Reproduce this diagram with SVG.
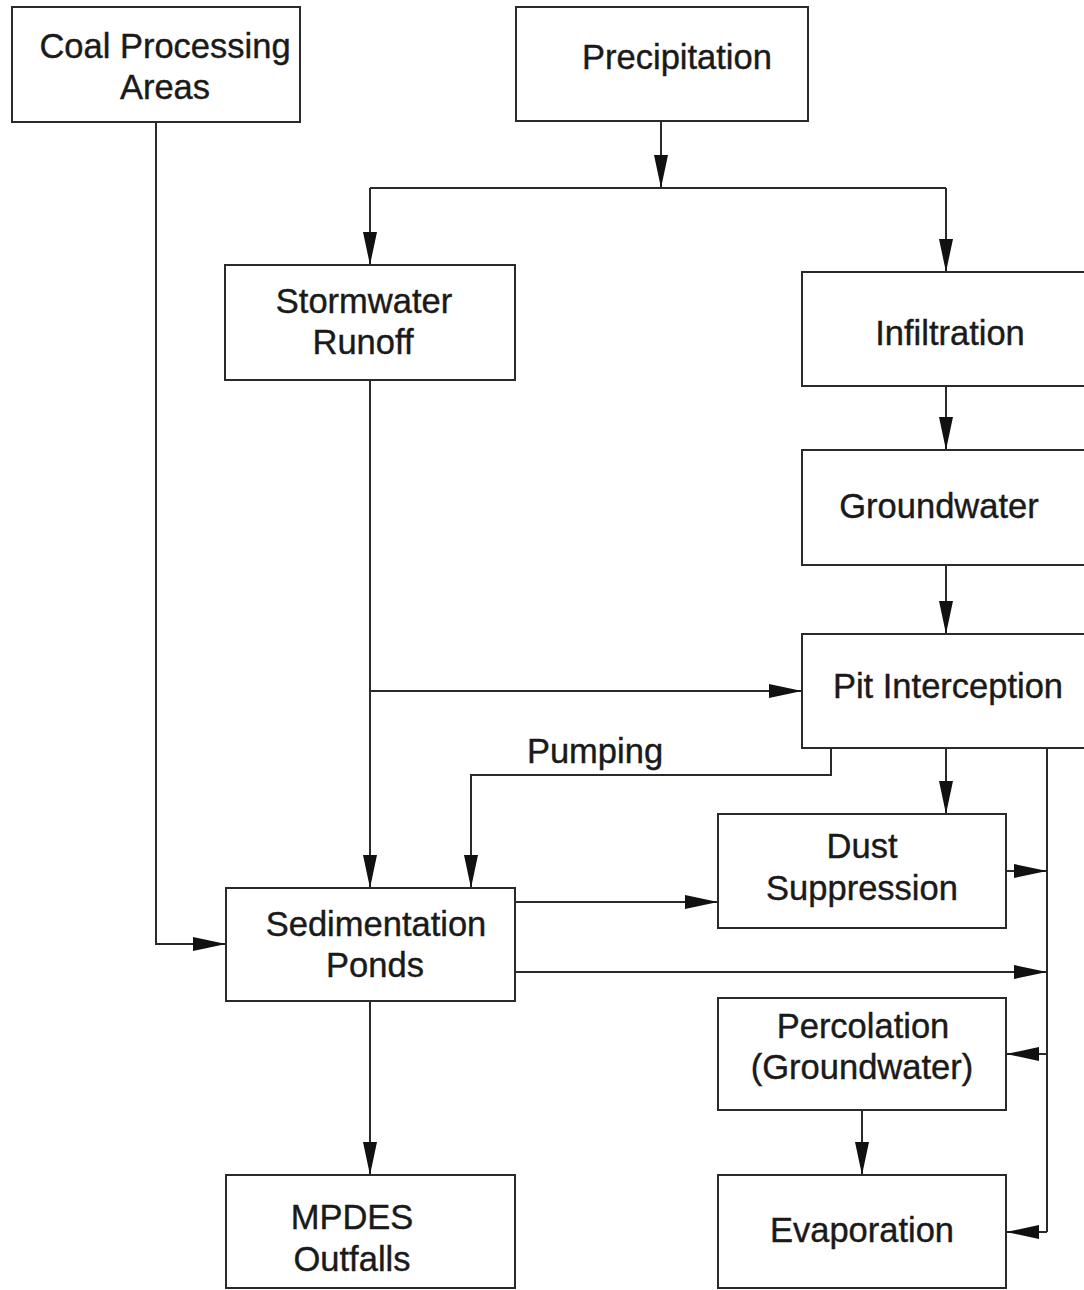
<svg xmlns="http://www.w3.org/2000/svg" width="1084" height="1290" viewBox="0 0 1084 1290">
<style>
.box{fill:#fff;stroke:#2a2a2a;stroke-width:2}
.t{font-family:"Liberation Sans",Arial,sans-serif;font-size:34.5px;fill:#1a1a1a;stroke:#1a1a1a;stroke-width:0.4;text-anchor:middle}
.c{fill:none;stroke:#2a2a2a;stroke-width:2}
</style>
<defs>
<marker id="a" markerUnits="userSpaceOnUse" markerWidth="34" markerHeight="15" refX="33" refY="7" orient="auto">
<path d="M0,0 L33,7 L0,14 z" fill="#111"/>
</marker>
</defs>
<rect width="1084" height="1290" fill="#fff"/>
<g id="connectors">
<path class="c" d="M661,121 V188" marker-end="url(#a)"/>
<path class="c" d="M370,188 H946"/>
<path class="c" d="M370,188 V265" marker-end="url(#a)"/>
<path class="c" d="M946,188 V272" marker-end="url(#a)"/>
<path class="c" d="M156,122 V944 H226" marker-end="url(#a)"/>
<path class="c" d="M370,380 V888" marker-end="url(#a)"/>
<path class="c" d="M370,691 H802" marker-end="url(#a)"/>
<path class="c" d="M946,386 V450" marker-end="url(#a)"/>
<path class="c" d="M946,565 V634" marker-end="url(#a)"/>
<path class="c" d="M946,748 V814" marker-end="url(#a)"/>
<path class="c" d="M831,748 V775 H471 V888" marker-end="url(#a)"/>
<path class="c" d="M1047,748 V1232"/>
<path class="c" d="M1006,871 H1047" marker-end="url(#a)"/>
<path class="c" d="M515,902 H718" marker-end="url(#a)"/>
<path class="c" d="M515,972 H1047" marker-end="url(#a)"/>
<path class="c" d="M1047,1054 H1006" marker-end="url(#a)"/>
<path class="c" d="M862,1110 V1175" marker-end="url(#a)"/>
<path class="c" d="M1047,1232 H1006" marker-end="url(#a)"/>
<path class="c" d="M370,1001 V1175" marker-end="url(#a)"/>
<text class="t" x="595" y="763">Pumping</text>
</g>
<g id="coal"><rect class="box" x="12" y="7" width="288" height="115"/><text class="t" x="165" y="58">Coal Processing</text><text class="t" x="165" y="99">Areas</text></g>
<g id="precipitation"><rect class="box" x="516" y="7" width="292" height="114"/><text class="t" x="677" y="69">Precipitation</text></g>
<g id="stormwater"><rect class="box" x="225" y="265" width="290" height="115"/><text class="t" x="364" y="313">Stormwater</text><text class="t" x="363" y="354">Runoff</text></g>
<g id="infiltration"><rect class="box" x="802" y="272" width="290" height="114"/><text class="t" x="950" y="345">Infiltration</text></g>
<g id="groundwater"><rect class="box" x="802" y="450" width="290" height="115"/><text class="t" x="939" y="518">Groundwater</text></g>
<g id="pit"><rect class="box" x="802" y="634" width="290" height="114"/><text class="t" x="948" y="698">Pit Interception</text></g>
<g id="dust"><rect class="box" x="718" y="814" width="288" height="114"/><text class="t" x="862" y="858">Dust</text><text class="t" x="862" y="900">Suppression</text></g>
<g id="sedimentation"><rect class="box" x="226" y="888" width="289" height="113"/><text class="t" x="376" y="936">Sedimentation</text><text class="t" x="375" y="977">Ponds</text></g>
<g id="percolation"><rect class="box" x="718" y="998" width="288" height="112"/><text class="t" x="863" y="1038">Percolation</text><text class="t" x="862" y="1079">(Groundwater)</text></g>
<g id="mpdes"><rect class="box" x="226" y="1175" width="289" height="113"/><text class="t" x="352" y="1229">MPDES</text><text class="t" x="352" y="1271">Outfalls</text></g>
<g id="evaporation"><rect class="box" x="718" y="1175" width="288" height="113"/><text class="t" x="862" y="1242">Evaporation</text></g>
</svg>
